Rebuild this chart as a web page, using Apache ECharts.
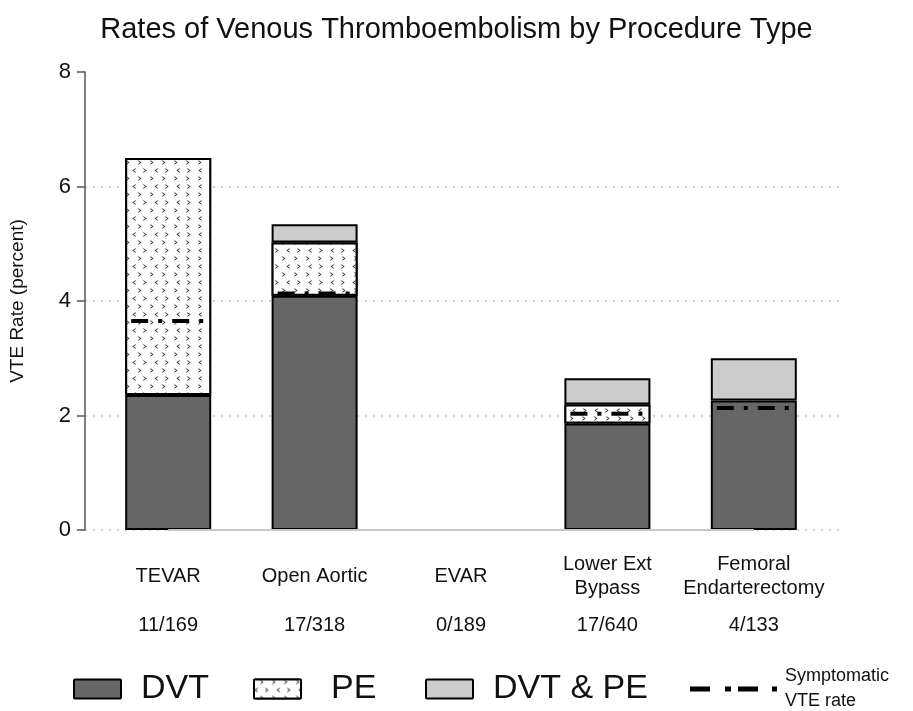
<!DOCTYPE html>
<html>
<head>
<meta charset="utf-8">
<script src="https://cdn.jsdelivr.net/npm/echarts@6/dist/echarts.min.js"></script>
<style>
  html, body { margin: 0; background: #fff; }
  #chart { width: 913px; height: 711px; }
</style>
</head>
<body>
<div id="chart"></div>
<script>
// VTE rates (percent) by procedure, stacked by event type.
const procedures = ['TEVAR', 'Open Aortic', 'EVAR', 'Lower Ext\nBypass', 'Femoral\nEndarterectomy'];
const eventCounts = ['11/169', '17/318', '0/189', '17/640', '4/133'];
const dvt = [2.36, 4.09, 0, 1.86, 2.26];
const pe = [4.14, 0.93, 0, 0.33, 0];
const dvtPe = [0, 0.32, 0, 0.46, 0.74];
const symptomatic = [3.65, 4.13, null, 2.03, 2.13];
const yMin = 0, yMax = 8, yStep = 2;

const BAR_W = 86;
const FONT = 'Liberation Sans, Arial, sans-serif';

// zero-height segments are not drawn (EVAR column is empty)
function seg(arr) {
  return arr.map(function (v) { return v === 0 ? '-' : v; });
}

const peDecal = {
  symbol: ['path://M4,0L0,3L4,6L4,4.6L1.8,3L4,1.4Z', 'path://M0,0L4,3L0,6L0,4.6L2.2,3L0,1.4Z'],
  symbolSize: 1,
  color: '#444',
  backgroundColor: '#fff',
  dashArrayX: [[4, 7], [0, 5.5, 4, 1.5]],
  dashArrayY: [5, 3]
};

const barBorder = { borderColor: '#000', borderWidth: 2 };
const boxIcon = 'path://M1,0h45a1,1 0 0 1 1,1v17a1,1 0 0 1 -1,1h-45a1,1 0 0 1 -1,-1v-17a1,1 0 0 1 1,-1z';

const chart = echarts.init(document.getElementById('chart'));
chart.setOption({
  animation: false,
  backgroundColor: '#fff',
  textStyle: { fontFamily: FONT },
  title: {
    text: 'Rates of Venous Thromboembolism by Procedure Type',
    left: 'center',
    top: 10,
    textStyle: { fontSize: 29, fontWeight: 'normal', color: '#111', fontFamily: FONT }
  },
  legend: [
    {
      data: ['DVT'], left: 73, top: 672, padding: 0,
      itemWidth: 47, itemHeight: 19, icon: boxIcon,
      textStyle: { fontSize: 34, color: '#111', padding: [0, 0, 0, 15] }
    },
    {
      data: ['PE'], left: 253, top: 672, padding: 0,
      itemWidth: 47, itemHeight: 19, icon: boxIcon,
      textStyle: { fontSize: 34, color: '#111', padding: [0, 0, 0, 25] }
    },
    {
      data: ['DVT & PE'], left: 425, top: 672, padding: 0,
      itemWidth: 47, itemHeight: 19, icon: boxIcon,
      textStyle: { fontSize: 34, color: '#111', padding: [0, 0, 0, 15] }
    },
    {
      data: [{
        name: 'Symptomatic VTE rate',
        icon: 'path://M0,0h20v5h-20z M35,0h6v5h-6z M48,0h20v5h-20z M82,0h5v5h-5z',
        itemStyle: { color: '#000', borderWidth: 0 }
      }],
      left: 690, top: 664, padding: 0,
      itemWidth: 87, itemHeight: 5,
      formatter: function () { return 'Symptomatic\nVTE rate'; },
      textStyle: { fontSize: 18, lineHeight: 25, color: '#111', padding: [0, 0, 0, 3] }
    }
  ],
  grid: [
    { left: 80, right: 68, top: 72, bottom: 181 },
    { left: 95, right: 86, top: 72, bottom: 181 }
  ],
  xAxis: [
    { gridIndex: 0, type: 'category', data: procedures, show: false },
    {
      gridIndex: 1, type: 'category', data: procedures,
      axisLine: { show: false }, axisTick: { show: false },
      axisLabel: { interval: 0, margin: 46, verticalAlign: 'middle', fontSize: 20, lineHeight: 24, color: '#111' }
    },
    {
      gridIndex: 1, type: 'category', data: eventCounts, position: 'bottom',
      axisLine: { show: false }, axisTick: { show: false },
      axisLabel: { interval: 0, margin: 95, verticalAlign: 'middle', fontSize: 20, color: '#111' }
    }
  ],
  yAxis: [
    {
      gridIndex: 0, type: 'value', min: yMin, max: yMax, interval: yStep,
      name: 'VTE Rate (percent)', nameLocation: 'middle', nameGap: 58,
      nameTextStyle: { fontSize: 19, color: '#111' },
      axisLine: { show: true, lineStyle: { color: '#555', width: 1.5 } },
      axisTick: { show: true, length: 8, lineStyle: { color: '#555', width: 1.5 } },
      axisLabel: { fontSize: 22, margin: 14, color: '#111' },
      splitLine: { show: true, showMaxLine: false, lineStyle: { type: [2, 6], color: '#c4c4c4', width: 1.5 } }
    },
    { gridIndex: 1, type: 'value', min: yMin, max: yMax, interval: yStep, show: false }
  ],
  series: [
    {
      name: 'DVT', type: 'bar', stack: 'vte', xAxisIndex: 1, yAxisIndex: 1,
      barWidth: BAR_W, data: seg(dvt),
      itemStyle: Object.assign({ color: '#666' }, barBorder),
      markLine: {
        silent: true, symbol: 'none', label: { show: false },
        lineStyle: { type: 'solid', color: '#c8c8c8', width: 2 },
        data: [[{ coord: [0, 0] }, { coord: [procedures.length - 1, 0] }]]
      },
      z: 3
    },
    {
      name: 'PE', type: 'bar', stack: 'vte', xAxisIndex: 1, yAxisIndex: 1,
      barWidth: BAR_W, data: seg(pe),
      itemStyle: Object.assign({ color: '#fff', decal: peDecal }, barBorder),
      z: 3
    },
    {
      name: 'DVT & PE', type: 'bar', stack: 'vte', xAxisIndex: 1, yAxisIndex: 1,
      barWidth: BAR_W, data: seg(dvtPe),
      itemStyle: Object.assign({ color: '#ccc' }, barBorder),
      z: 3
    },
    {
      name: 'Symptomatic VTE rate', type: 'custom', xAxisIndex: 1, yAxisIndex: 1,
      itemStyle: { color: '#000' },
      data: symptomatic.map(function (v, i) { return [i, v == null ? '-' : v]; }),
      encode: { x: 0, y: 1 },
      renderItem: function (params, api) {
        if (isNaN(api.value(1))) return;
        var p = api.coord([api.value(0), api.value(1)]);
        var half = BAR_W / 2 - 6;
        return {
          type: 'line',
          shape: { x1: p[0] - half, y1: p[1], x2: p[0] + half, y2: p[1] },
          style: { stroke: '#000', lineWidth: 4, lineDash: [17, 10, 4, 10] }
        };
      },
      z: 5
    }
  ]
});
</script>
</body>
</html>
